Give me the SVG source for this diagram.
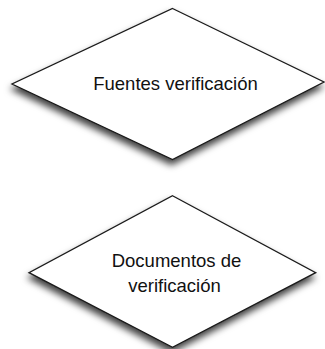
<svg xmlns="http://www.w3.org/2000/svg" width="325" height="349" viewBox="0 0 325 349">
<defs>
<filter id="sh" x="-20%" y="-20%" width="140%" height="150%">
<feDropShadow dx="-1" dy="5" stdDeviation="3.5" flood-color="#000" flood-opacity="0.75"/>
</filter>
</defs>
<style>
.d{fill:#fff;stroke:#1a1a1a;stroke-width:1.3;stroke-linejoin:miter;filter:url(#sh)}
.t{font-family:"Liberation Sans",Arial,sans-serif;font-size:18.5px;fill:#111;text-anchor:middle}
</style>
<rect width="325" height="349" fill="#fff"/>
<g id="connectors"></g>
<g id="node1">
<polygon class="d" points="172.5,8.5 324,82 172.5,159.5 12,84"/>
<text class="t" x="175.5" y="90">Fuentes verificación</text>
</g>
<g id="node2">
<polygon class="d" points="172.5,195.7 315.7,272.7 172.5,347.3 29,272.7"/>
<text class="t" x="176.5" y="266.5">Documentos de</text>
<text class="t" x="174.5" y="291.5">verificación</text>
</g>
</svg>
